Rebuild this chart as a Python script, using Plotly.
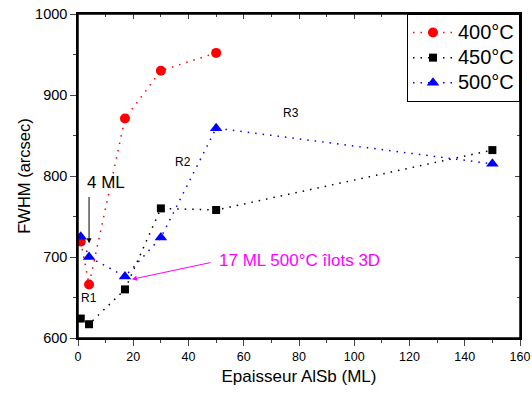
import plotly.graph_objects as go

x400 = [1, 4, 17, 30, 50]
y400 = [719, 666, 871, 930, 952]
x450 = [1, 4, 17, 30, 50, 150]
y450 = [624, 617, 660, 760, 758, 832]
x500 = [1, 4, 17, 30, 50, 150]
y500 = [725, 700, 676, 724, 859, 815]
names = ["400°C", "450°C", "500°C"]

fig = go.Figure()
dash = "1.5px,6px"
lg = "<span style='font-size:20px'>%s</span>"
fig.add_trace(go.Scatter(x=x400, y=y400, name=lg % names[0], mode="lines+markers",
                         line=dict(color="red", width=1.5, dash=dash),
                         marker=dict(symbol="circle", size=10, color="red")))
fig.add_trace(go.Scatter(x=x450, y=y450, name=lg % names[1], mode="lines+markers",
                         line=dict(color="black", width=1.5, dash=dash),
                         marker=dict(symbol="square", size=8, color="black")))
fig.add_trace(go.Scatter(x=x500, y=y500, name=lg % names[2], mode="lines+markers",
                         line=dict(color="blue", width=1.5, dash=dash),
                         marker=dict(symbol="triangle-up", size=11, color="blue")))

# invisible trace for top/right mirrored inside ticks
fig.add_trace(go.Scatter(x=[0], y=[600], xaxis="x2", yaxis="y2", mode="markers",
                         marker=dict(opacity=0), showlegend=False, hoverinfo="skip"))

font = "Liberation Sans, Arial, sans-serif"
txt = dict(family=font, size=12, color="black")
anns = [
    dict(x=77, y=878, text="R3", showarrow=False, font=txt),
    dict(x=38, y=817, text="R2", showarrow=False, font=txt),
    dict(x=3.8, y=650, text="R1", showarrow=False, font=txt),
    dict(x=10, y=792, text="4 ML", showarrow=False, font=dict(family=font, size=17, color="black")),
    dict(x=4, y=717, ax=4, ay=776, xref="x", yref="y", axref="x", ayref="y", text="",
         showarrow=True, arrowhead=2, arrowsize=1, arrowwidth=1, arrowcolor="black"),
    dict(x=50.3, y=696, text="17 ML 500°C îlots 3D", showarrow=False, xanchor="left",
         font=dict(family=font, size=17, color="magenta")),
    dict(x=19.5, y=672.5, ax=48.5, ay=693.5, xref="x", yref="y", axref="x", ayref="y", text="",
         showarrow=True, arrowhead=2, arrowsize=1, arrowwidth=1, arrowcolor="magenta"),
]

ax_common = dict(showline=True, linecolor="black", linewidth=1.5, showgrid=False,
                 zeroline=False, automargin=False, ticklabeloverflow="allow")

fig.update_layout(
    width=532, height=394,
    margin=dict(l=78, r=12, t=14, b=56),
    plot_bgcolor="white", paper_bgcolor="white",
    font=dict(family=font, size=13, color="black"),
    xaxis=dict(range=[0, 160], dtick=20, ticks="outside", ticklen=6, mirror=True,
               tickfont=dict(size=12.5),
               minor=dict(dtick=10, ticks="outside", ticklen=3),
               title=dict(text="Epaisseur AlSb (ML)", font=dict(size=17), standoff=7),
               **ax_common),
    yaxis=dict(range=[600, 1000], dtick=100, ticks="outside", ticklen=6, mirror=True,
               tickfont=dict(size=14.5),
               minor=dict(dtick=50, ticks="outside", ticklen=3),
               title=dict(text="FWHM (arcsec)", font=dict(size=16.5), standoff=0),
               **ax_common),
    xaxis2=dict(range=[0, 160], dtick=20, overlaying="x", side="top", ticks="inside",
                ticklen=5, showticklabels=False,
                minor=dict(dtick=10, ticks="inside", ticklen=3), **ax_common),
    yaxis2=dict(range=[600, 1000], dtick=100, overlaying="y", side="right", ticks="inside",
                ticklen=5, showticklabels=False,
                minor=dict(dtick=50, ticks="inside", ticklen=3), **ax_common),
    legend=dict(x=1, y=1, xanchor="right", yanchor="top", bordercolor="black",
                borderwidth=1, bgcolor="white", font=dict(size=17),
                tracegroupgap=0, itemwidth=40),
    annotations=anns,
    shapes=[dict(type="rect", xref="paper", yref="paper", x0=0, x1=1, y0=0, y1=1,
                 line=dict(color="black", width=1.5), layer="above")],
    showlegend=True,
)

fig.write_html("out.html", config={"displayModeBar": False},
               post_script="document.body.style.margin='0';document.body.style.overflow='hidden';")
